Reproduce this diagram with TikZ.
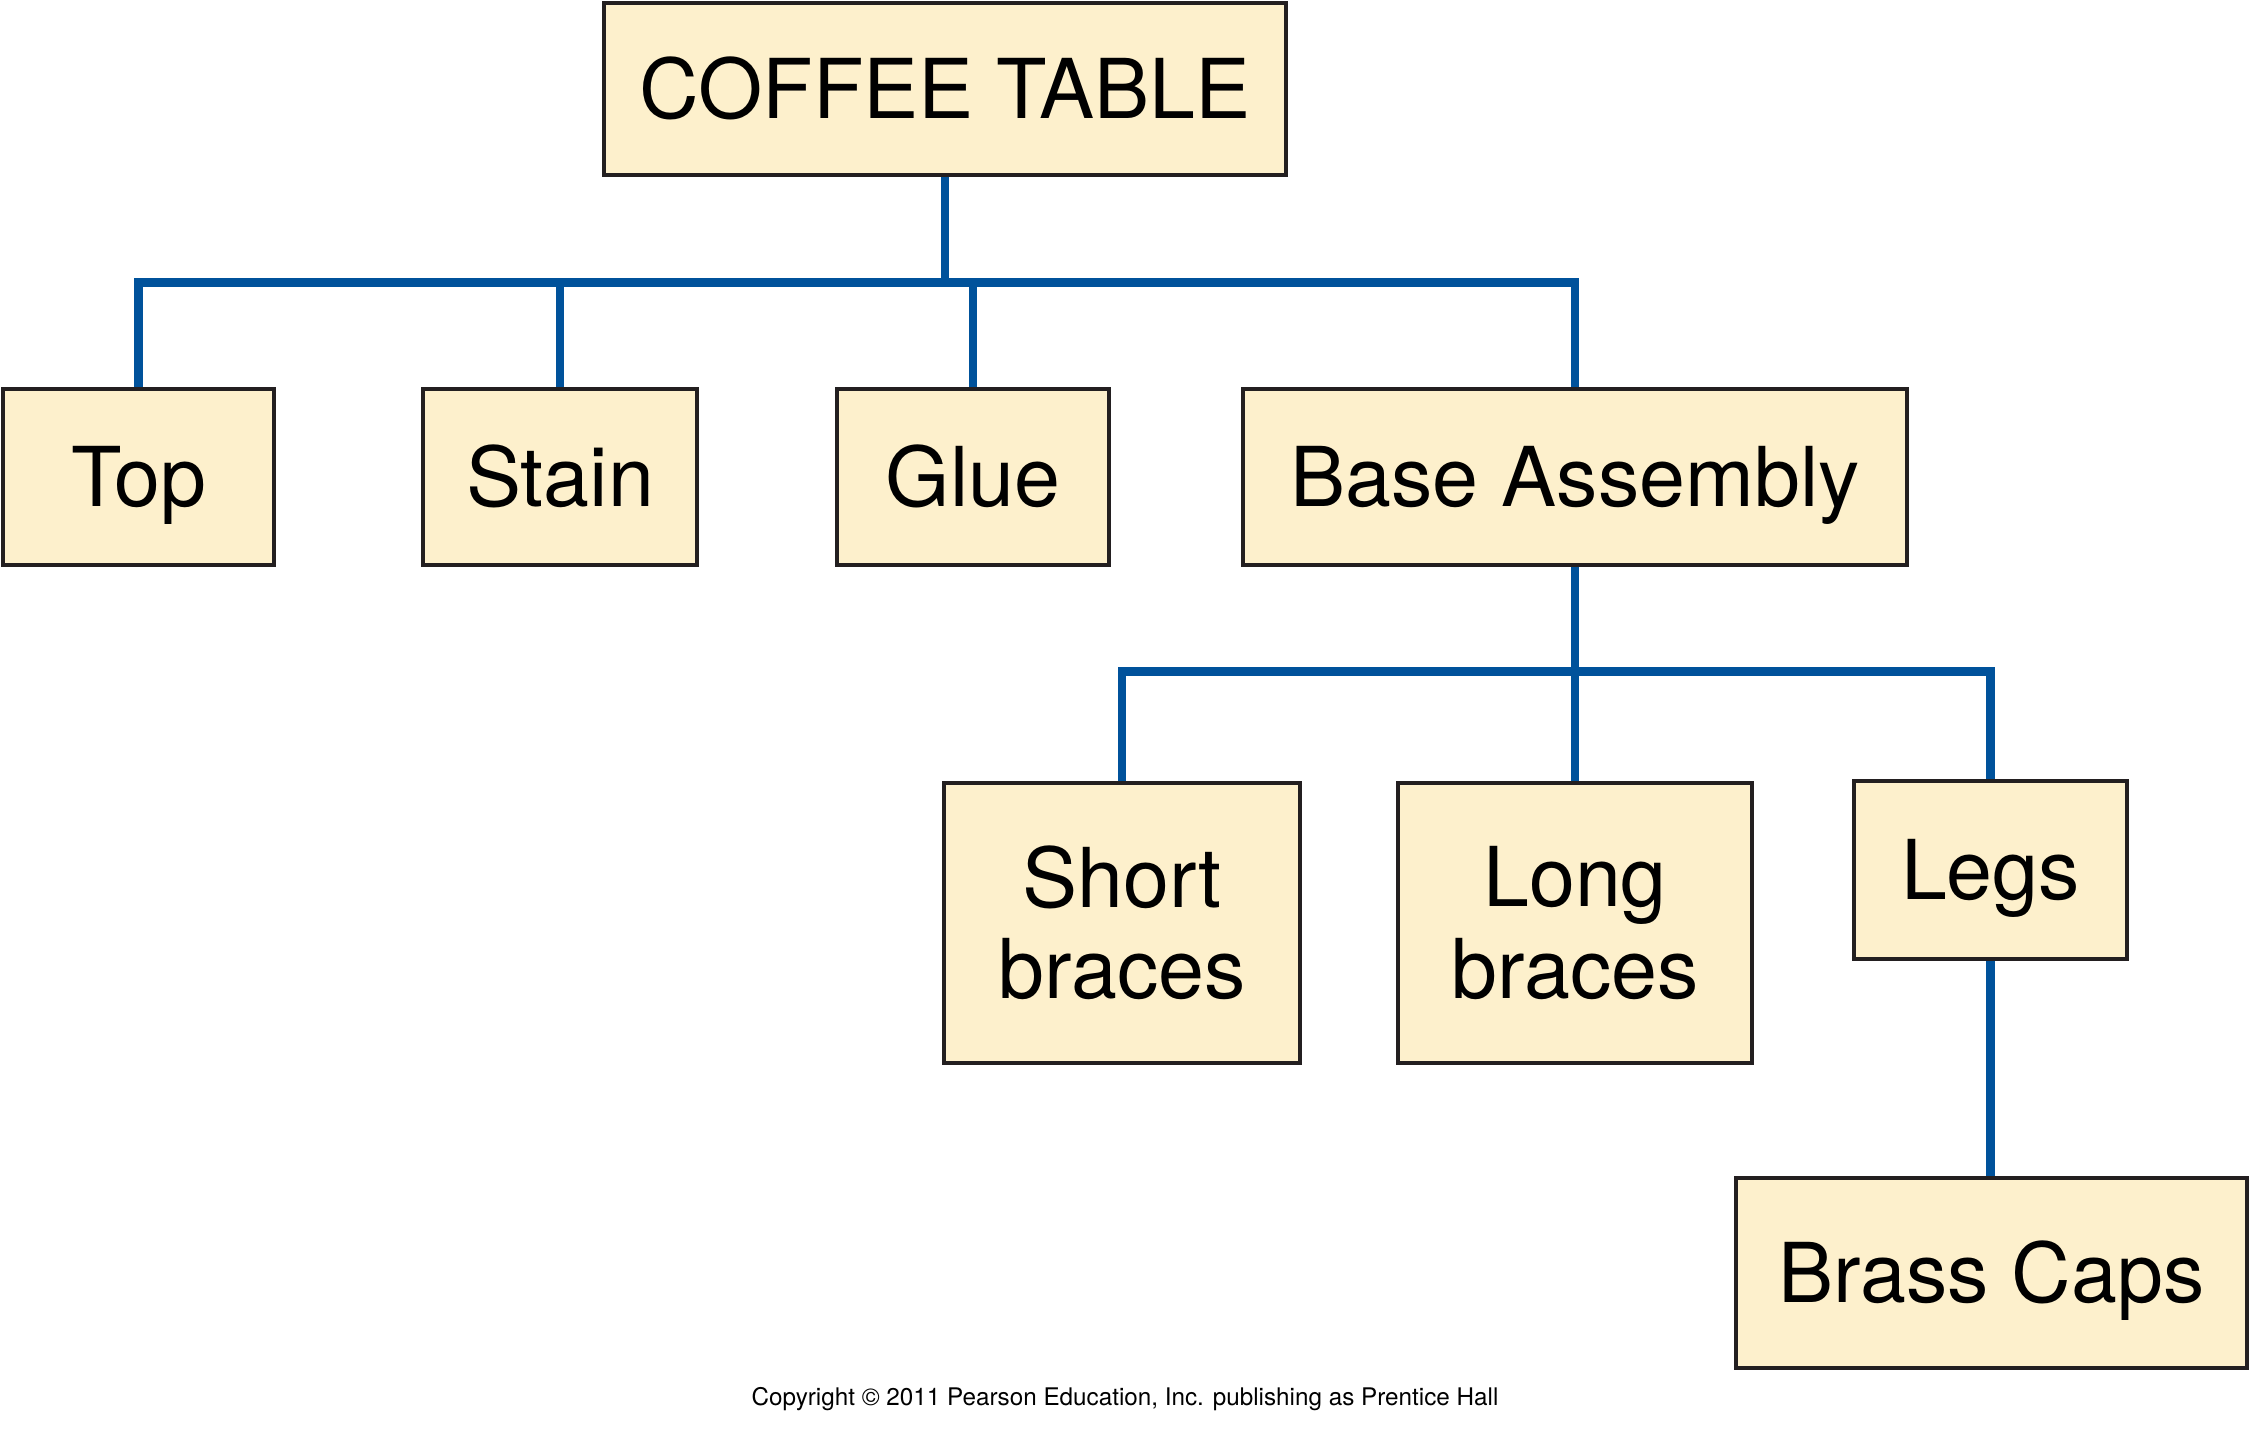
\documentclass[tikz,border=0pt]{standalone}
\usepackage{fontspec}
\setmainfont{TeX Gyre Heros}
\definecolor{bomcream}{RGB}{253,240,204}
\definecolor{bomblue}{RGB}{0,82,155}
\definecolor{bomdark}{RGB}{35,31,32}
\usetikzlibrary{positioning}

\begin{document}
\begin{tikzpicture}[
    partbox/.style={draw=bomdark, line width=0.95pt, fill=bomcream, inner sep=0pt,
                    align=center, font=\fontsize{23.5}{26}\selectfont},
    oneline/.style={partbox, text height=17pt, text depth=0pt},
    bomline/.style={draw=bomblue, line width=2.5pt}]

\useasboundingbox (0,0) rectangle (22.5,-14.33);

% --- Level 0: the product ---
\node[oneline, minimum width=6.82cm, minimum height=1.72cm] (root) at (9.45,-0.89) {COFFEE TABLE};

% --- Level 1 ---
\node[oneline, minimum width=2.71cm, minimum height=1.76cm] (top)   at (1.385,-4.77) {Top};
\node[oneline, minimum width=2.74cm, minimum height=1.76cm] (stain) at (5.60,-4.77)  {Stain};
\node[oneline, minimum width=2.72cm, minimum height=1.76cm] (glue)  at (9.73,-4.77)  {Glue};
\node[oneline, minimum width=6.64cm, minimum height=1.76cm] (base)  at (15.75,-4.77) {Base Assembly};

% --- Level 2 ---
\node[partbox, minimum width=3.56cm, minimum height=2.80cm] (short) at (11.22,-9.23) {Short\\braces};
\node[partbox, minimum width=3.54cm, minimum height=2.80cm] (long)  at (15.75,-9.23) {Long\\braces};
\node[oneline, minimum width=2.73cm, minimum height=1.78cm] (legs)  at (19.905,-8.70) {Legs};

% --- Level 3 ---
\node[oneline, minimum width=5.11cm, minimum height=1.90cm] (caps)  at (19.915,-12.73) {Brass Caps};

% Connectors
\draw[bomline] (root.south) -- ++(0,-1.06) coordinate (bus1);
\foreach \n in {top,stain,glue,base}
  \draw[bomline] (bus1) -| (\n.north);

\draw[bomline] (base.south) -- ++(0,-1.05) coordinate (bus2);
\foreach \n in {short,long,legs}
  \draw[bomline] (bus2) -| (\n.north);

\draw[bomline] (legs.south) -- (legs.south |- caps.north);

% Credit line
\node[font=\fontsize{6.9}{8}\selectfont, inner sep=0pt] (credit) at (11.25,-13.99)
  {Copyright © 2011 Pearson Education, Inc. publishing as Prentice Hall};

\end{tikzpicture}
\end{document}
